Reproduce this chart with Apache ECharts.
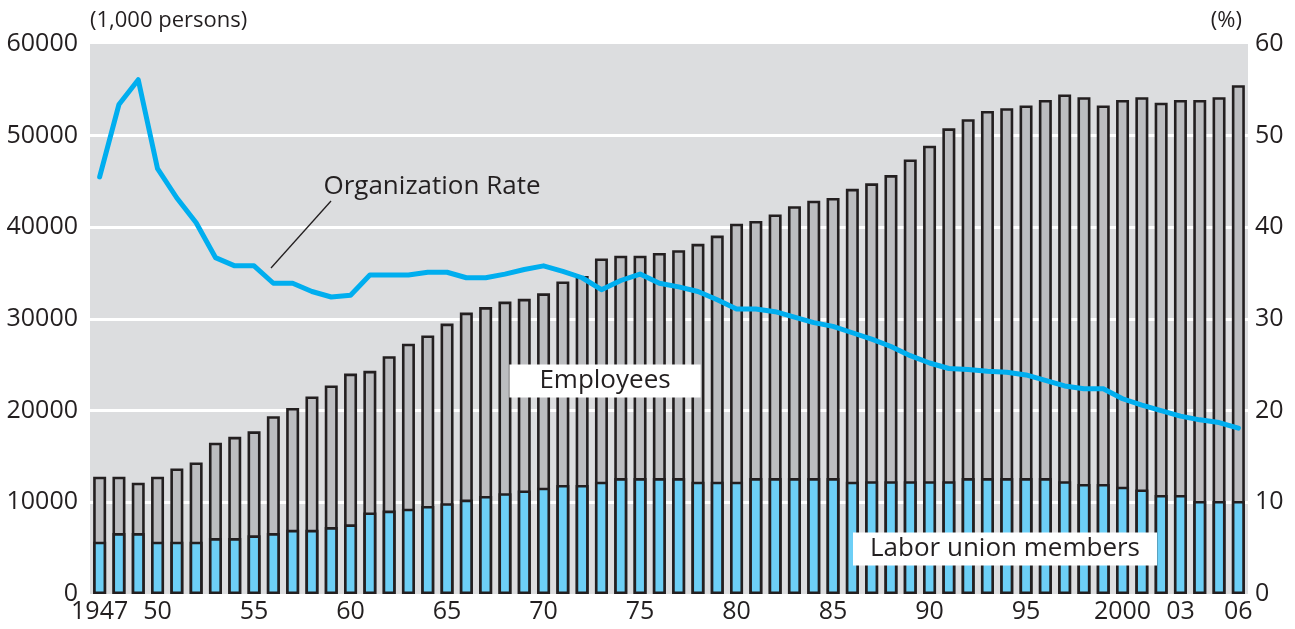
<!DOCTYPE html>
<html>
<head>
<meta charset="utf-8">
<script src="https://cdn.jsdelivr.net/npm/echarts@6/dist/echarts.min.js"></script>
<style>
  html, body { margin: 0; padding: 0; background: #fff; }
  #chart { width: 1295px; height: 629px; }
</style>
</head>
<body>
<div id="chart"></div>
<script>
var years = ['1947', '48', '49', '50', '51', '52', '53', '54', '55', '56',
  '57', '58', '59', '60', '61', '62', '63', '64', '65', '66',
  '67', '68', '69', '70', '71', '72', '73', '74', '75', '76',
  '77', '78', '79', '80', '81', '82', '83', '84', '85', '86',
  '87', '88', '89', '90', '91', '92', '93', '94', '95', '96',
  '97', '98', '99', '2000', '01', '02', '03', '04', '05', '06'];

// labels actually printed under the axis
var shownYears = ['1947', '50', '55', '60', '65', '70', '75', '80', '85', '90', '95', '2000', '03', '06'];

// (1,000 persons)
var employees = [12800, 12800, 12150, 12800, 13700, 14350, 16500, 17150, 17750, 19400,
  20300, 21550, 22750, 24050, 24350, 25950, 27300, 28200, 29500, 30700,
  31300, 31900, 32200, 32800, 34100, 34700, 36600, 36900, 36900, 37200,
  37500, 38200, 39100, 40400, 40700, 41400, 42300, 42900, 43200, 44200,
  44800, 45700, 47400, 48900, 50800, 51800, 52700, 53000, 53300, 53900,
  54500, 54200, 53300, 53900, 54200, 53600, 53900, 53900, 54200, 55500];

var unionMembers = [5700, 6650, 6650, 5700, 5700, 5700, 6100, 6100, 6400, 6650,
  7000, 7000, 7300, 7600, 8900, 9100, 9300, 9600, 9900, 10300,
  10700, 11000, 11300, 11600, 11900, 11900, 12250, 12650, 12650, 12650,
  12650, 12250, 12250, 12250, 12650, 12650, 12650, 12650, 12650, 12250,
  12300, 12300, 12300, 12300, 12300, 12650, 12650, 12650, 12650, 12650,
  12300, 12000, 12000, 11700, 11400, 10800, 10800, 10150, 10150, 10150];

// (%)
var orgRate = [45.5, 53.4, 56.1, 46.4, 43.2, 40.5, 36.7, 35.8, 35.8, 33.9,
  33.9, 33.0, 32.4, 32.6, 34.8, 34.8, 34.8, 35.1, 35.1, 34.5,
  34.5, 34.9, 35.4, 35.8, 35.2, 34.5, 33.2, 34.2, 34.9, 33.9,
  33.5, 33.0, 32.1, 31.1, 31.1, 30.8, 30.2, 29.6, 29.2, 28.5,
  27.8, 27.0, 26.0, 25.2, 24.6, 24.5, 24.3, 24.2, 23.9, 23.3,
  22.7, 22.4, 22.4, 21.3, 20.6, 20.0, 19.4, 19.0, 18.7, 18.1];

var FONT = '"Open Sans", "Noto Sans", sans-serif';
var TEXT = '#231f20';

var chart = echarts.init(document.getElementById('chart'));

var option = {
  animation: false,
  textStyle: { fontFamily: FONT, color: TEXT },
  grid: {
    left: 90,
    right: 47,
    top: 44,
    bottom: 35,
    show: true,
    backgroundColor: '#dcdddf',
    borderWidth: 0
  },
  xAxis: {
    type: 'category',
    data: years,
    axisLine: { show: false },
    axisTick: { show: false },
    axisLabel: {
      interval: 0,
      margin: 5,
      fontSize: 25,
      color: TEXT,
      fontFamily: FONT,
      formatter: function (v) {
        return shownYears.indexOf(v) >= 0 ? v : '';
      }
    }
  },
  yAxis: [
    {
      type: 'value',
      min: 0,
      max: 60000,
      interval: 10000,
      axisLine: { show: false },
      axisTick: { show: false },
      axisLabel: {
        fontSize: 25, color: TEXT, margin: 12, fontFamily: FONT,
        formatter: function (v) { return String(v); }
      },
      splitLine: { lineStyle: { color: '#ffffff', width: 3 }, showMinLine: false, showMaxLine: false }
    },
    {
      type: 'value',
      min: 0,
      max: 60,
      interval: 10,
      position: 'right',
      axisLine: { show: false },
      axisTick: { show: false },
      axisLabel: { fontSize: 25, color: TEXT, margin: 7, fontFamily: FONT },
      splitLine: { show: false }
    }
  ],
  series: [
    {
      name: 'Employees',
      type: 'bar',
      data: employees,
      barWidth: 13,
      barGap: '-100%',
      itemStyle: { color: '#bcbdc0', borderColor: '#231f20', borderWidth: 2.6 },
      z: 2
    },
    {
      name: 'Labor union members',
      type: 'bar',
      data: unionMembers,
      barWidth: 13,
      barGap: '-100%',
      itemStyle: { color: '#6dcff6', borderColor: '#231f20', borderWidth: 2.6 },
      z: 3
    },
    {
      name: 'Organization Rate',
      type: 'line',
      yAxisIndex: 1,
      data: orgRate,
      symbol: 'none',
      lineStyle: { color: '#00aeef', width: 5, cap: 'round', join: 'round' },
      z: 4
    }
  ],
  graphic: [
    {
      type: 'text', left: 90, top: 10, z: 10,
      style: { text: '(1,000 persons)', font: '22px ' + FONT, fill: TEXT }
    },
    {
      type: 'text', right: 53, top: 10, z: 10,
      style: { text: '(%)', font: '22px ' + FONT, fill: TEXT }
    },
    {
      type: 'text', x: 432, y: 187, z: 10,
      style: { text: 'Organization Rate', font: '26px ' + FONT, fill: TEXT, align: 'center', verticalAlign: 'middle' }
    },
    {
      type: 'line', z: 10,
      shape: { x1: 331, y1: 201, x2: 271, y2: 268 },
      style: { stroke: TEXT, lineWidth: 1.3 }
    },
    {
      type: 'text', x: 605, y: 381, z: 10,
      style: {
        text: 'Employees', font: '26px ' + FONT, fill: TEXT, align: 'center', verticalAlign: 'middle',
        backgroundColor: '#ffffff', padding: [4, 30, 3, 30]
      }
    },
    {
      type: 'text', x: 1005, y: 549, z: 10,
      style: {
        text: 'Labor union members', font: '26px ' + FONT, fill: TEXT, align: 'center', verticalAlign: 'middle',
        backgroundColor: '#ffffff', padding: [4, 17, 3, 17]
      }
    }
  ]
};

chart.setOption(option);
</script>
</body>
</html>
